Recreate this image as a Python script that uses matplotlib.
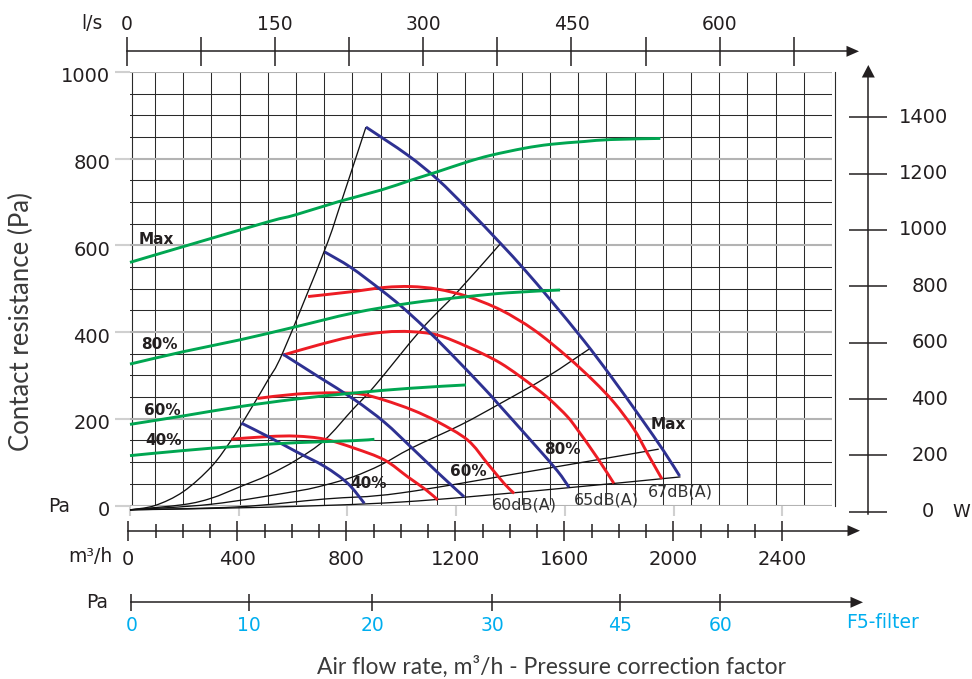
import matplotlib
matplotlib.use("Agg")
import matplotlib.pyplot as plt
from matplotlib.patches import Polygon, PathPatch
from matplotlib.path import Path
from matplotlib.transforms import ScaledTranslation, blended_transform_factory
import numpy as np

# ---------------- data ----------------
# Fan curves: airflow (m³/h) vs available pressure (Pa)
fan_max_q = [868, 1022, 1132, 1242, 1364, 1450, 1547, 1670, 1768, 1878, 1963, 2022]
fan_max_p = [873, 808, 752, 684, 604, 545, 474, 380, 299, 203, 126, 68]
fan_80_q = [716, 813, 924, 997, 1083, 1181, 1303, 1352, 1486, 1572, 1615]
fan_80_p = [585, 549, 497, 460, 411, 350, 270, 236, 142, 80, 42]
fan_60_q = [563, 691, 826, 936, 1040, 1132, 1229]
fan_60_p = [349, 298, 244, 192, 131, 76, 20]
fan_40_q = [410, 508, 612, 716, 801, 862]
fan_40_p = [190, 159, 124, 90, 51, 5]

# Sound level curves (m³/h, Pa)
snd_1_q = [373, 508, 612, 716, 826, 936, 1022, 1089, 1132]
snd_1_p = [153, 159, 160, 153, 132, 105, 66, 36, 13]
snd_2_q = [469, 612, 752, 850, 936, 1040, 1132, 1242, 1315, 1376, 1413]
snd_2_p = [247, 257, 260, 257, 243, 220, 193, 151, 97, 51, 28]
snd_3_q = [563, 691, 813, 936, 1034, 1132, 1242, 1364, 1486, 1547, 1609, 1646, 1719, 1780]
snd_3_p = [347, 370, 389, 400, 401, 393, 366, 328, 274, 243, 205, 175, 110, 51]
snd_4_q = [655, 813, 936, 1034, 1132, 1242, 1364, 1486, 1609, 1706, 1780, 1853, 1902, 1957]
snd_4_p = [482, 493, 503, 505, 499, 482, 451, 405, 343, 287, 238, 177, 122, 61]

# Duct system curves (m³/h, Pa)
sys_1_q = [0, 92, 196, 300, 373, 404, 459, 508, 563, 716, 777, 868]
sys_1_p = [-10, 0, 32, 90, 151, 181, 238, 290, 354, 589, 700, 873]
sys_2_q = [0, 196, 300, 404, 508, 612, 716, 820, 899, 1070, 1205, 1364]
sys_2_p = [-10, 2, 17, 43, 70, 105, 151, 222, 275, 405, 493, 605]
sys_3_q = [0, 300, 612, 716, 820, 924, 1034, 1217, 1364, 1535, 1694]
sys_3_p = [-10, 3, 33, 47, 66, 94, 132, 186, 236, 297, 363]
sys_4_q = [0, 400, 716, 997, 1547, 1945]
sys_4_p = [-10, -3, 15, 29, 87, 130]
sys_5_q = [0, 500, 997, 1511, 2025]
sys_5_p = [-10, -4, 8, 35, 66]

# Power input curves (m³/h, W)
pow_max_q = [0, 196, 508, 606, 765, 924, 1034, 1132, 1242, 1327, 1450, 1547, 1670, 1768, 1951]
pow_max_w = [885, 941, 1029, 1053, 1100, 1142, 1177, 1207, 1242, 1265, 1290, 1304, 1314, 1321, 1325]
pow_80_q = [0, 196, 404, 612, 820, 1028, 1236, 1389, 1582]
pow_80_w = [524, 568, 610, 657, 705, 740, 763, 777, 787]
pow_60_q = [0, 196, 404, 612, 820, 1028, 1236]
pow_60_w = [310, 340, 373, 400, 421, 438, 450]
pow_40_q = [0, 196, 404, 612, 820, 899]
pow_40_w = [199, 217, 233, 245, 252, 257]

# Scales
pa_ticks = [0, 200, 400, 600, 800, 1000]
q_ticks = [0, 400, 800, 1200, 1600, 2000, 2400]
q_minor = [100, 200, 300, 500, 600, 700, 900, 1000, 1100, 1300, 1400, 1500,
           1700, 1800, 1900, 2100, 2200, 2300]
ls_ticks = [0, 150, 300, 450, 600]
ls_minor = [75, 225, 375, 525, 675]
w_ticks = [0, 200, 400, 600, 800, 1000, 1200, 1400]
filter_q = [11, 442, 895, 1336, 1806, 2173]
filter_labels = ["0", "10", "20", "30", "45", "60"]

fan_labels = ["Max", "80%", "60%", "40%"]
snd_labels = ["60dB(A)", "65dB(A)", "67dB(A)"]

# ---------------- style / layout ----------------
INK = "#231f20"
GREEN = "#00a651"
BLUE = "#2e3192"
RED = "#ed1c24"
CYAN = "#00aeef"
GRID_DARK = "#2a2a2a"
GRID_GRAY = "#b3b3b3"

FIG_W, FIG_H, DPI = 972, 679, 100
Q0_PX, Q_PPU = 128.3, 0.2725
P0_PY, P_PPU = 505.5, 0.4335
W0_PY, W_PPU = 511.7, 0.28171
L0_PX, L_PPU = 127.0, 0.9877
PT = 72.0 / DPI  # points per pixel


def q_at(px):
    return (px - Q0_PX) / Q_PPU


def p_at(py):
    return (P0_PY - py) / P_PPU


def w_at(py):
    return (W0_PY - py) / W_PPU


def l_at(px):
    return (px - L0_PX) / L_PPU


def box(x0, y0, x1, y1):
    return [x0 / FIG_W, 1 - y1 / FIG_H, (x1 - x0) / FIG_W, (y1 - y0) / FIG_H]


def fxy(px, py):
    return (px / FIG_W, 1 - py / FIG_H)


def smooth_path(x, y):
    """Cubic Bezier path passing through every (x, y) point."""
    pts = np.column_stack([x, y]).astype(float)
    n = len(pts)
    verts, codes = [pts[0]], [Path.MOVETO]
    for i in range(n - 1):
        p0, p1 = pts[max(i - 1, 0)], pts[i]
        p2, p3 = pts[i + 1], pts[min(i + 2, n - 1)]
        verts += [p1 + (p2 - p0) / 6, p2 - (p3 - p1) / 6, p2]
        codes += [Path.CURVE4] * 3
    return Path(verts, codes)


def curve(axis, x, y, color, lw, zorder, clip=True):
    patch = PathPatch(smooth_path(x, y), fill=False, edgecolor=color,
                      linewidth=lw, zorder=zorder, capstyle="butt",
                      joinstyle="round")
    patch.set_clip_on(clip)
    axis.add_patch(patch)


plt.rcParams["font.family"] = ["DejaVu Sans"]
fig = plt.figure(figsize=(FIG_W / DPI, FIG_H / DPI), dpi=DPI)
fig.patch.set_facecolor("white")


def arrowhead(tx, ty, direction):
    ln, hw = 12.5, 5.5
    if direction == "right":
        pts = [(tx, ty), (tx - ln, ty - hw), (tx - ln, ty + hw)]
    else:
        pts = [(tx, ty), (tx - hw - 1, ty + ln), (tx + hw + 1, ty + ln)]
    fig.add_artist(Polygon([fxy(*p) for p in pts], closed=True,
                           transform=fig.transFigure, facecolor=INK,
                           edgecolor="none"))


def ftext(px, py, s, **kw):
    kw.setdefault("color", INK)
    kw.setdefault("ha", "center")
    kw.setdefault("va", "center")
    fig.text(px / FIG_W, 1 - py / FIG_H, s, **kw)


# ---------------- main chart ----------------
ax = fig.add_axes(box(130, 72, 832, 505.5))
ax.set_xlim(q_at(130), q_at(832))
ax.set_ylim(p_at(505.5), p_at(72))
ax.patch.set_alpha(0)
for s in ax.spines.values():
    s.set_visible(False)

ax.set_yticks(pa_ticks)
ax.set_yticks([v for v in range(0, 1001, 50) if v % 200], minor=True)
ax.yaxis.grid(True, which="major", color=GRID_GRAY, lw=1.5, zorder=0.5)
ax.yaxis.grid(True, which="minor", color=GRID_DARK, lw=0.75, zorder=0.5)
ax.tick_params(axis="y", which="major", direction="out", length=15 * PT,
               width=1.5, color="#d0d0d0", pad=3.6, labelsize=14,
               labelcolor=INK)
ax.tick_params(axis="y", which="minor", length=0)
for lab in ax.get_yticklabels():
    lab.set_transform(lab.get_transform() +
                      ScaledTranslation(0, -3 / DPI, fig.dpi_scale_trans))
ax.set_xticks(q_ticks)
ax.tick_params(axis="x", direction="out", length=10 * PT, width=1.5,
               color="#d0d0d0", labelbottom=False)

# background grid columns
for k in range(25):
    ax.axvline(q_at(153.3 + 28.28 * k), color=GRID_DARK, lw=0.75, zorder=0.6)
ax.axvline(q_at(130.4), color=GRID_DARK, lw=0.8, zorder=0.6)
ax.axvline(q_at(835), color=GRID_DARK, lw=0.8, zorder=0.6, clip_on=False)

# duct system curves
for q, p in [(sys_1_q, sys_1_p), (sys_2_q, sys_2_p), (sys_3_q, sys_3_p),
             (sys_4_q, sys_4_p), (sys_5_q, sys_5_p)]:
    curve(ax, q, p, "#111111", 0.95, 3, clip=False)

# sound curves
for q, p in [(snd_1_q, snd_1_p), (snd_2_q, snd_2_p), (snd_3_q, snd_3_p),
             (snd_4_q, snd_4_p)]:
    curve(ax, q, p, RED, 2.1, 4)

# fan curves
for q, p in [(fan_max_q, fan_max_p), (fan_80_q, fan_80_p),
             (fan_60_q, fan_60_p), (fan_40_q, fan_40_p)]:
    curve(ax, q, p, BLUE, 2.1, 5)

# curve labels
fan_label_pos = [(1981, 187), (1592, 130), (1244, 78), (877, 51)]
for s, (q, p) in zip(fan_labels, fan_label_pos):
    ax.text(q, p, s, ha="center", va="center", fontsize=11,
            fontweight="bold", color=INK, zorder=6)
snd_label_pos = [(1450, 0), (1751, 13), (2023, 30)]
for s, (q, p) in zip(snd_labels, snd_label_pos):
    ax.text(q, p, s, ha="center", va="center", fontsize=11.5,
            color="#333333", zorder=6, clip_on=False)

# power curves on the W scale
axg = ax.twinx()
axg.set_ylim(w_at(505.5), w_at(72))
axg.axis("off")
for q, w in [(pow_max_q, pow_max_w), (pow_80_q, pow_80_w),
             (pow_60_q, pow_60_w), (pow_40_q, pow_40_w)]:
    curve(axg, q, w, GREEN, 2.1, 4, clip=False)
pow_label_pos = [(97, 967), (107, 595), (119, 361), (124, 251)]
for s, (q, w) in zip(fan_labels, pow_label_pos):
    axg.text(q, w, s, ha="center", va="center", fontsize=11,
             fontweight="bold", color=INK, clip_on=False)

# ---------------- l/s scale (top) ----------------
axt = fig.add_axes(box(127, 51.3, 852, 52.3))
axt.set_xlim(l_at(127), l_at(852))
axt.patch.set_alpha(0)
for n, s in axt.spines.items():
    s.set_visible(n == "top")
    s.set_color(INK)
    s.set_linewidth(1.1)
axt.set_yticks([])
axt.xaxis.set_ticks_position("top")
axt.set_xticks(ls_ticks)
axt.set_xticks(ls_minor, minor=True)
axt.tick_params(axis="x", which="both", direction="inout", length=29 * PT,
                width=1.1, color=INK, labelsize=13.5, labelcolor=INK,
                pad=2, labeltop=True, labelbottom=False)
arrowhead(859, 51.3, "right")
ftext(91.5, 23.3, "l/s", fontsize=13.5)

# ---------------- m³/h scale (bottom) ----------------
axb = fig.add_axes(box(128.3, 529.7, 854, 530.7))
axb.set_xlim(q_at(128.3), q_at(854))
axb.patch.set_alpha(0)
for n, s in axb.spines.items():
    s.set_visible(n == "bottom")
    s.set_color(INK)
    s.set_linewidth(1.1)
axb.set_yticks([])
axb.set_xticks(q_ticks)
axb.set_xticks(q_minor, minor=True)
axb.tick_params(axis="x", which="major", direction="inout", length=20 * PT,
                width=1.1, color=INK, labelsize=14, labelcolor=INK, pad=7)
axb.tick_params(axis="x", which="minor", direction="inout", length=14.7 * PT,
                width=1.1, color=INK)
arrowhead(860, 530.7, "right")
ftext(112, 556, "m³/h", fontsize=13.5, ha="right")

# ---------------- filter pressure scale ----------------
axf = fig.add_axes(box(131.3, 601.3, 857, 602.3))
axf.set_xlim(q_at(131.3), q_at(857))
axf.patch.set_alpha(0)
for n, s in axf.spines.items():
    s.set_visible(n == "bottom")
    s.set_color(INK)
    s.set_linewidth(1.1)
axf.set_yticks([])
axf.set_xticks(filter_q)
axf.set_xticklabels(filter_labels)
axf.tick_params(axis="x", direction="inout", length=17 * PT, width=1.1,
                color=INK, labelsize=13.5, labelcolor=CYAN, pad=4)
arrowhead(863, 602.3, "right")
ftext(97.5, 602, "Pa", fontsize=13.5)
ftext(883, 623, "F5-filter", fontsize=13.5, color=CYAN)

# ---------------- W scale (right) ----------------
axw = fig.add_axes(box(868.3, 77, 869.3, 514))
axw.set_ylim(w_at(514), w_at(77))
axw.patch.set_alpha(0)
for n, s in axw.spines.items():
    s.set_visible(n == "left")
    s.set_color(INK)
    s.set_linewidth(1.1)
axw.set_xticks([])
axw.set_yticks(w_ticks)
axw.tick_params(axis="y", direction="inout", length=38 * PT, width=1.1,
                color=INK, labelleft=False)
arrowhead(868.3, 65, "up")
wtrans = blended_transform_factory(axw.transAxes, axw.transData)
for v in w_ticks:
    if v == 0:
        off, ha = 928 - 868.3, "center"
    else:
        off, ha = 948 - 868.3, "right"
    axw.text(0, v, str(v), ha=ha, va="center", fontsize=14, color=INK,
             transform=wtrans + ScaledTranslation(off / DPI, 0,
                                                  fig.dpi_scale_trans),
             clip_on=False)
ftext(952, 512, "W", fontsize=13, ha="left")

# left Pa unit
ftext(59, 506, "Pa", fontsize=13.5)

# axis titles
ftext(551, 667, "Air flow rate, m³/h - Pressure correction factor",
      fontsize=16.5, family=["Lato", "DejaVu Sans"], color="#3a3a3a")
ftext(21, 322, "Contact resistance (Pa)", fontsize=18.5, rotation=90,
      family=["Lato", "DejaVu Sans"], color="#3a3a3a")

fig.savefig("out.png", dpi=DPI)
